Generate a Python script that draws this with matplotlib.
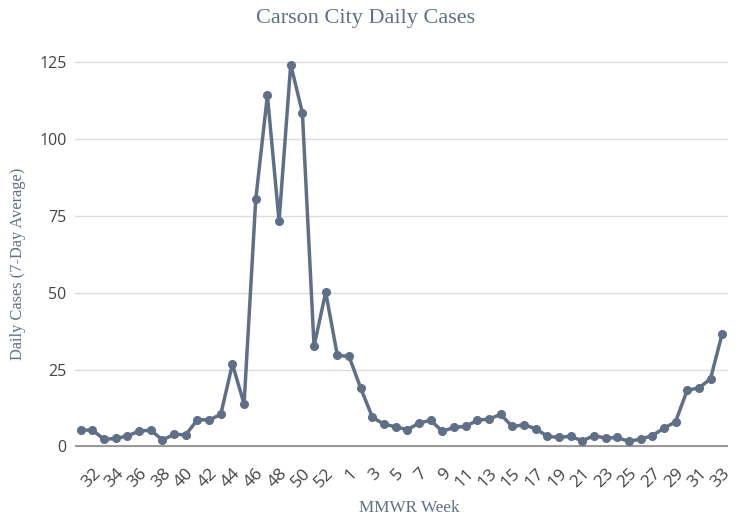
import matplotlib
matplotlib.use("Agg")
import matplotlib.pyplot as plt
import numpy as np

# MMWR weeks 31..53 (2020) then 1..33 (2021)
weeks = list(range(31, 54)) + list(range(1, 34))
cases = [5.3, 5.3, 2.3, 2.6, 3.4, 5.0, 5.3, 2.1, 3.9, 3.8,
         8.7, 8.6, 10.4, 26.8, 13.8, 80.4, 114.3, 73.3, 124.3, 108.6,
         32.6, 50.2, 29.6, 29.3, 19.0, 9.5, 7.2, 6.4, 5.4, 7.6,
         8.5, 4.9, 6.2, 6.5, 8.5, 8.9, 10.4, 6.5, 7.0, 5.8,
         3.3, 2.9, 3.3, 1.8, 3.5, 2.7, 2.9, 1.6, 2.4, 3.5,
         5.9, 8.0, 18.3, 19.0, 22.0, 36.7]
yticks = [0, 25, 50, 75, 100, 125]

slate = "#5f6f88"
serif = "Liberation Serif"
sans = "Open Sans"

fig = plt.figure(figsize=(7.36, 5.21), dpi=100)
ax = fig.add_axes([75 / 736, 1 - 463 / 521, 653 / 736, 420 / 521])

x = np.arange(len(weeks))
ax.plot(x, cases, "o-", color=slate, lw=2.5, ms=5.5, zorder=3)

ax.set_xlim(-0.5, len(weeks) - 0.5)
ax.set_ylim(-5.4, 131.3)
ax.set_yticks(yticks)
ax.set_yticklabels([str(v) for v in yticks], fontfamily=sans, fontsize=11.5, color="#444444")
ax.grid(axis="y", color="#dcdcdc", lw=1)
ax.axhline(0, color="#8a8a8a", lw=1.2, zorder=2)

tick_idx = x[1::2]
ax.set_xticks(tick_idx)
ax.set_xticklabels([str(weeks[i]) for i in tick_idx], rotation=45, ha="right",
                   rotation_mode="anchor", fontfamily=sans, fontsize=12.5, color="#444444")
ax.tick_params(axis="both", length=0, pad=6)
ax.tick_params(axis="x", pad=2)

for s in ax.spines.values():
    s.set_visible(False)

fig.text(0.497, 1 - 18 / 521, "Carson City Daily Cases", ha="center", va="center",
         fontfamily=serif, fontsize=16, color=slate)
fig.text(18 / 736, 1 - 264 / 521, "Daily Cases (7-Day Average)", rotation=90,
         ha="center", va="center", fontfamily=serif, fontsize=11.8, color=slate)
fig.text(409 / 736, 1 - 508 / 521, "MMWR Week", ha="center", va="center",
         fontfamily=serif, fontsize=12.3, color=slate)

fig.savefig("out.png", dpi=100)
